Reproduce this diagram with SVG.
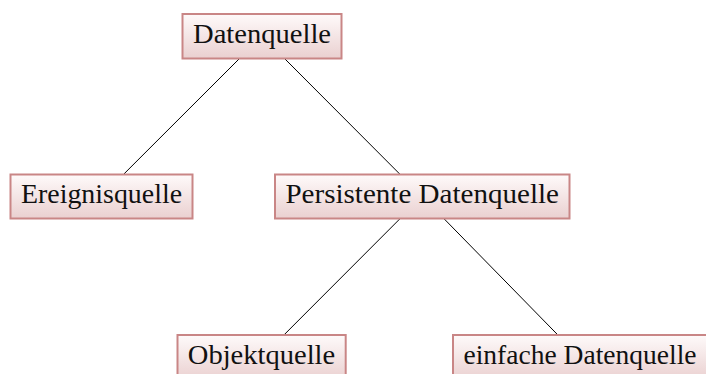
<svg xmlns="http://www.w3.org/2000/svg" width="706" height="374" viewBox="0 0 706 374">
  <defs>
    <linearGradient id="boxFill" x1="0" y1="0" x2="0" y2="1">
      <stop offset="0" stop-color="#fefafa"/>
      <stop offset="1" stop-color="#ead0d0"/>
    </linearGradient>
    <style>
      .box { fill: url(#boxFill); stroke: #c98686; stroke-width: 2; }
      .label { font-family: "Liberation Serif", "Times New Roman", serif; font-size: 26.5px; fill: #111; text-anchor: middle; }
      .edge { stroke: #000; stroke-width: 1; fill: none; }
    </style>
  </defs>

  <g id="connectors">
    <line class="edge" x1="239" y1="59" x2="123.9" y2="174"/>
    <line class="edge" x1="285" y1="59" x2="399.7" y2="174"/>
    <line class="edge" x1="399.7" y1="219" x2="283.9" y2="335"/>
    <line class="edge" x1="444.3" y1="219" x2="557.9" y2="335"/>
  </g>

  <g id="datenquelle">
    <rect class="box" x="182.5" y="14" width="159" height="44.5"/>
    <text class="label" x="262" y="43" textLength="138" lengthAdjust="spacingAndGlyphs">Datenquelle</text>
  </g>

  <g id="ereignisquelle">
    <rect class="box" x="10.5" y="174.5" width="182" height="44"/>
    <text class="label" x="101.5" y="203.3" textLength="161" lengthAdjust="spacingAndGlyphs">Ereignisquelle</text>
  </g>

  <g id="persistente-datenquelle">
    <rect class="box" x="275" y="174.5" width="294.5" height="44"/>
    <text class="label" x="422.2" y="203.3" textLength="273.5" lengthAdjust="spacingAndGlyphs">Persistente Datenquelle</text>
  </g>

  <g id="objektquelle">
    <rect class="box" x="177.5" y="335" width="168.2" height="45"/>
    <text class="label" x="261.5" y="364.3" textLength="147.4" lengthAdjust="spacingAndGlyphs">Objektquelle</text>
  </g>

  <g id="einfache-datenquelle">
    <rect class="box" x="453" y="335" width="254" height="45"/>
    <text class="label" x="580" y="364.3" textLength="233" lengthAdjust="spacingAndGlyphs">einfache Datenquelle</text>
  </g>
</svg>
